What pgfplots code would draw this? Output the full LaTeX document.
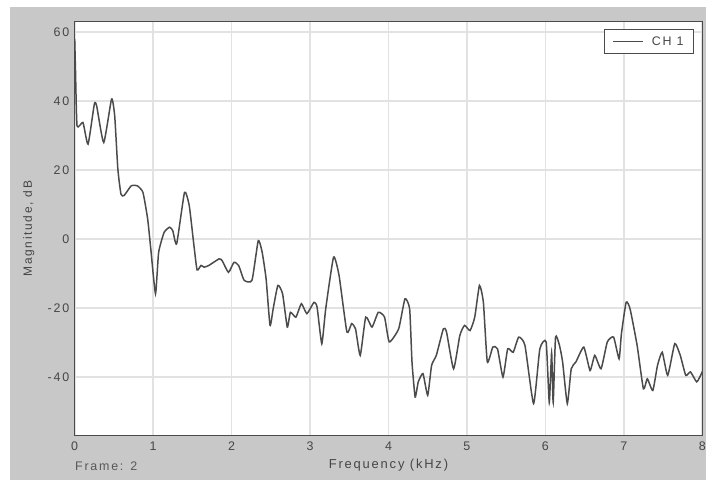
\documentclass[border=0pt]{standalone}
\usepackage{fontspec}
\setmainfont{Liberation Sans}[LetterSpace=14]
\usepackage{pgfplots}
\pgfplotsset{compat=1.18}
\definecolor{bggray}{RGB}{200,200,200}
\definecolor{gridgray}{RGB}{226,226,226}
\definecolor{curve}{RGB}{75,75,75}
\definecolor{txt}{RGB}{70,70,70}
\begin{document}
\begin{tikzpicture}[x=1pt,y=1pt]
\fill[white] (0,0) rectangle (709,482);
\fill[bggray] (10,0) rectangle (709,475);
\begin{axis}[
  at={(75pt,45pt)}, anchor=south west,
  scale only axis, width=630pt, height=415pt,
  xmin=0, xmax=8, ymin=-57, ymax=63,
  xtick={0,1,...,8}, ytick={-40,-20,0,20,40,60},
  major tick length=0pt,
  grid=major,
  major grid style={gridgray, line width=1.6pt},
  axis background/.style={fill=white},
  axis line style={curve, line width=1.1pt},
  tick label style={font=\fontsize{12.5}{14}\selectfont, text=txt},
  /pgf/number format/assume math mode=true,
  xticklabel style={yshift=-3pt},
  yticklabel style={xshift=-2pt},
  xlabel={Frequency (kHz)},
  xlabel style={at={(axis description cs:0.5,-0.072)}, anchor=center, font=\fontsize{13}{15}\selectfont, text=txt},
  ylabel={Magnitude, dB},
  ylabel style={at={(axis description cs:-0.073,0.50)}, anchor=center, rotate=0, font=\fontsize{12}{14}\selectfont, text=txt},
  legend style={at={(axis description cs:0.987,0.983)}, anchor=north east, draw=curve, line width=0.9pt, font=\fontsize{12.5}{14}\selectfont, text=txt, inner xsep=8pt, inner ysep=5pt},
  legend image code/.code={\draw[curve, line width=0.9pt] (0pt,0pt) -- (30pt,0pt); \path (36pt,0pt);},
  clip=true,
]
\addplot[curve, line width=1.5pt, smooth, tension=0.3] coordinates {
(0.000,58) (0.010,49) (0.030,32.8) (0.105,33.8) (0.17,27.5) (0.25,39.1) (0.28,38.6)
(0.37,28) (0.47,40.6) (0.51,35.7) (0.55,20.3) (0.59,13) (0.63,12.6) (0.72,15.4)
(0.80,15.4) (0.87,13.5) (0.93,5.8) (0.97,-2.9) (1.03,-15.9) (1.07,-3.9) (1.14,1.9)
(1.21,3.4) (1.25,2.4) (1.30,-1.4) (1.40,13.5) (1.46,9.7) (1.52,-1.9) (1.56,-9)
(1.61,-7.7) (1.65,-8.2) (1.71,-7.7) (1.84,-5.8) (1.88,-6.3) (1.96,-9.7) (2.03,-6.8)
(2.09,-7.7) (2.16,-12) (2.26,-12) (2.34,-0.5) (2.39,-3.9) (2.44,-11.6) (2.49,-25.1)
(2.53,-20.3) (2.59,-13.5) (2.65,-15.9) (2.71,-25.6) (2.75,-21.3) (2.82,-22.7)
(2.89,-18.8) (2.96,-21.7) (3.05,-18.4) (3.09,-19.8) (3.15,-30.4) (3.20,-20.3)
(3.30,-5.3) (3.37,-10.6) (3.47,-27) (3.53,-24.6) (3.58,-26.1) (3.64,-33.8)
(3.71,-22.7) (3.79,-25.6) (3.87,-21.3) (3.95,-22.7) (4.01,-29.9) (4.13,-26.1)
(4.21,-17.4) (4.27,-20.3) (4.30,-35.7) (4.34,-45.9) (4.38,-41.5) (4.44,-39.1)
(4.50,-45.4) (4.55,-36.7) (4.61,-33.8) (4.70,-26.1) (4.74,-27) (4.83,-37.7)
(4.91,-28) (4.97,-25.1) (5.04,-26.6) (5.10,-22.7) (5.16,-13.5) (5.21,-18.4)
(5.26,-35.7) (5.33,-31.4) (5.39,-31.9) (5.46,-40.1) (5.52,-31.9) (5.59,-32.9)
(5.66,-28.5) (5.74,-30.9) (5.85,-47.8) (5.93,-31.9) (6.01,-29.9) (6.05,-47.5)
(6.08,-33) (6.10,-47.5) (6.13,-28.5) (6.18,-30.9) (6.22,-35.7) (6.28,-47.8)
(6.33,-37.7) (6.39,-35.7) (6.49,-31.4) (6.57,-38.2) (6.63,-33.8) (6.71,-37.7)
(6.79,-29.9) (6.87,-28.5) (6.94,-34.8) (6.97,-27.5) (7.03,-18.4) (7.08,-20.3)
(7.17,-30.9) (7.25,-43.5) (7.30,-40.6) (7.37,-44) (7.43,-36.7) (7.49,-32.9)
(7.56,-39.6) (7.65,-30.4) (7.72,-33.8) (7.79,-39.6) (7.85,-38.6) (7.93,-41.5)
(7.99,-39.1) (8.00,-38.5)
};
\addlegendentry{CH 1}
\end{axis}
\node[anchor=west, font=\fontsize{12.5}{14}\selectfont, text=txt!90] at (72,14) {Frame: 2};
\end{tikzpicture}
\end{document}
